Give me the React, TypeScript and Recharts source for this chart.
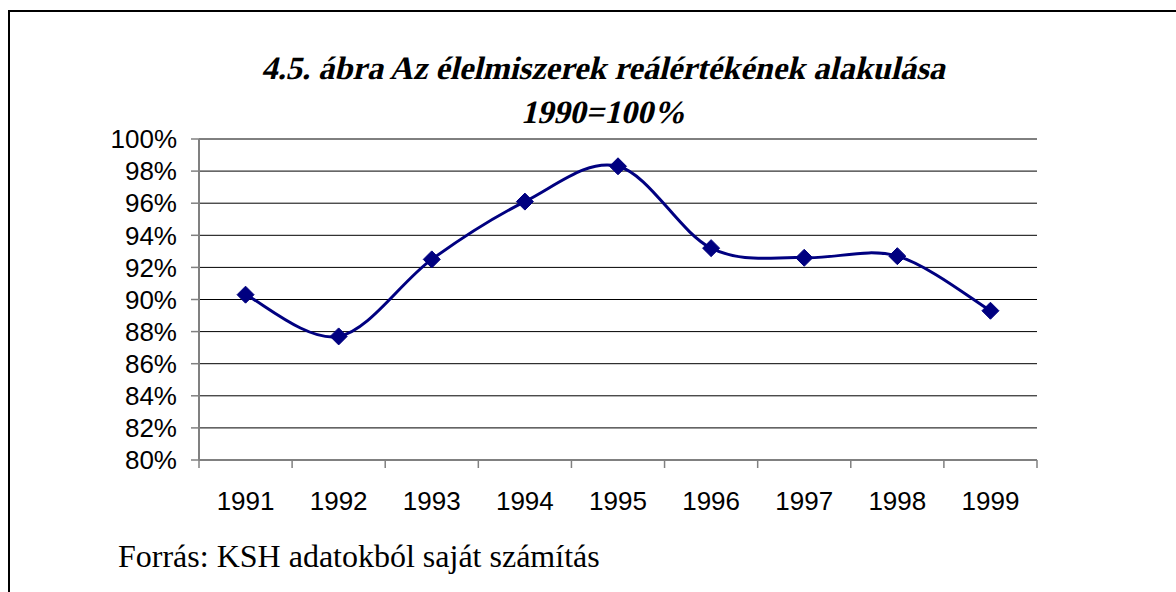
import React from "react";
import { LineChart, Line, XAxis, YAxis, CartesianGrid } from "recharts";

const YEARS = ["1991", "1992", "1993", "1994", "1995", "1996", "1997", "1998", "1999"];
const REAL_VALUE = [90.3, 87.7, 92.5, 96.1, 98.3, 93.2, 92.6, 92.7, 89.3];
const Y_TICKS = [80, 82, 84, 86, 88, 90, 92, 94, 96, 98, 100];

const TITLE_1 = "4.5. ábra Az élelmiszerek reálértékének alakulása";
const TITLE_2 = "1990=100%";
const SOURCE = "Forrás: KSH adatokból saját számítás";

const data = YEARS.map((year, i) => ({ year, value: REAL_VALUE[i] }));

const W = 1176;
const H = 592;
const MARGIN = { top: 139, right: 139, bottom: 72, left: 109 };
const PLOT_W = W - MARGIN.left - 90 - MARGIN.right;
const BAND = PLOT_W / YEARS.length;
const NAVY = "#000080";
const FRAME_GRAY = "#808080";
const SERIF = "'Liberation Serif', 'Times New Roman', serif";

// Excel-style smoothed line (Catmull-Rom as cubic bezier)
const excelSmooth = (context: any) => {
  let pts: [number, number][] = [];
  return {
    areaStart() {},
    areaEnd() {},
    lineStart() {
      pts = [];
    },
    point(x: number, y: number) {
      pts.push([+x, +y]);
    },
    lineEnd() {
      if (!pts.length) return;
      context.moveTo(pts[0][0], pts[0][1]);
      for (let i = 0; i < pts.length - 1; i++) {
        const p0 = pts[i - 1] || pts[i];
        const p1 = pts[i];
        const p2 = pts[i + 1];
        const p3 = pts[i + 2] || p2;
        context.bezierCurveTo(
          p1[0] + (p2[0] - p0[0]) / 6,
          p1[1] + (p2[1] - p0[1]) / 6,
          p2[0] - (p3[0] - p1[0]) / 6,
          p2[1] - (p3[1] - p1[1]) / 6,
          p2[0],
          p2[1]
        );
      }
    },
  };
};

function Diamond(props: any) {
  const { cx, cy } = props;
  if (cx == null || cy == null) return null;
  const r = 8.5;
  return (
    <polygon
      points={`${cx},${cy - r} ${cx + r},${cy} ${cx},${cy + r} ${cx - r},${cy}`}
      fill={NAVY}
      stroke={NAVY}
    />
  );
}

function YearTick(props: any) {
  const { x, y, payload, index } = props;
  const axisY = y - 8 - 24;
  return (
    <g>
      <line x1={x - BAND / 2} x2={x - BAND / 2} y1={axisY} y2={axisY + 8} stroke={FRAME_GRAY} strokeWidth={1.5} />
      {index === YEARS.length - 1 && (
        <line x1={x + BAND / 2} x2={x + BAND / 2} y1={axisY} y2={axisY + 8} stroke={FRAME_GRAY} strokeWidth={1.5} />
      )}
      <text
        x={x}
        y={y}
        dy="0.71em"
        textAnchor="middle"
        fill="#000"
        fontSize={26}
        fontFamily="'Liberation Sans', Arial, sans-serif"
      >
        {payload.value}
      </text>
    </g>
  );
}

// bold serif, slanted by hand
function TitleLine({ x, y, children }: { x: number; y: number; children: string }) {
  return (
    <g transform={`translate(${x},${y}) skewX(-13)`}>
      <text x={0} y={0} textAnchor="middle" fontSize={32.5} fontWeight="bold" fontFamily={SERIF} fill="#000">
        {children}
      </text>
    </g>
  );
}

export default function App() {
  return (
    <div style={{ position: "fixed", left: 0, top: 0, width: W, height: H, background: "#fff" }}>
      <div
        style={{
          position: "absolute",
          left: 8,
          top: 10,
          width: 1300,
          height: 700,
          borderTop: "2px solid #000",
          borderLeft: "2px solid #000",
        }}
      />
      <div style={{ position: "absolute", left: 0, top: 0 }}>
        <LineChart width={W} height={H} data={data} margin={MARGIN}>
          <CartesianGrid xAxisId="cat" yAxisId="pct" vertical={false} stroke="#000" strokeWidth={1} />
          <XAxis
            xAxisId="cat"
            dataKey="year"
            scale="band"
            height={60}
            axisLine={{ stroke: FRAME_GRAY, strokeWidth: 2 }}
            tickLine={false}
            tickSize={8}
            tickMargin={24}
            interval={0}
            tick={<YearTick />}
          />
          <XAxis
            xAxisId="top"
            orientation="top"
            dataKey="year"
            scale="band"
            height={0}
            tick={false}
            tickLine={false}
            axisLine={{ stroke: FRAME_GRAY, strokeWidth: 2 }}
          />
          <YAxis
            yAxisId="pct"
            width={90}
            domain={[80, 100]}
            ticks={Y_TICKS}
            interval={0}
            tickFormatter={(v: number) => `${v}%`}
            axisLine={{ stroke: FRAME_GRAY, strokeWidth: 2 }}
            tickLine={{ stroke: FRAME_GRAY, strokeWidth: 1.5 }}
            tickSize={8}
            tickMargin={14}
            tick={{ fill: "#000", fontSize: 26, fontFamily: "'Liberation Sans', Arial, sans-serif" }}
          />
          <YAxis
            yAxisId="frame"
            orientation="right"
            width={0}
            domain={[80, 100]}
            tick={false}
            tickLine={false}
            axisLine={{ stroke: FRAME_GRAY, strokeWidth: 2.5 }}
          />
          <Line
            xAxisId="cat"
            yAxisId="pct"
            dataKey="value"
            type={excelSmooth as any}
            stroke={NAVY}
            strokeWidth={3}
            dot={<Diamond />}
            activeDot={false}
            isAnimationActive={false}
          />
        </LineChart>
      </div>
      <svg width={W} height={H} style={{ position: "absolute", left: 0, top: 0, pointerEvents: "none" }}>
        <TitleLine x={603} y={79}>{TITLE_1}</TitleLine>
        <TitleLine x={603} y={123}>{TITLE_2}</TitleLine>
        <text x={118} y={567} fontSize={32} fontFamily={SERIF} fill="#000">
          {SOURCE}
        </text>
      </svg>
    </div>
  );
}
